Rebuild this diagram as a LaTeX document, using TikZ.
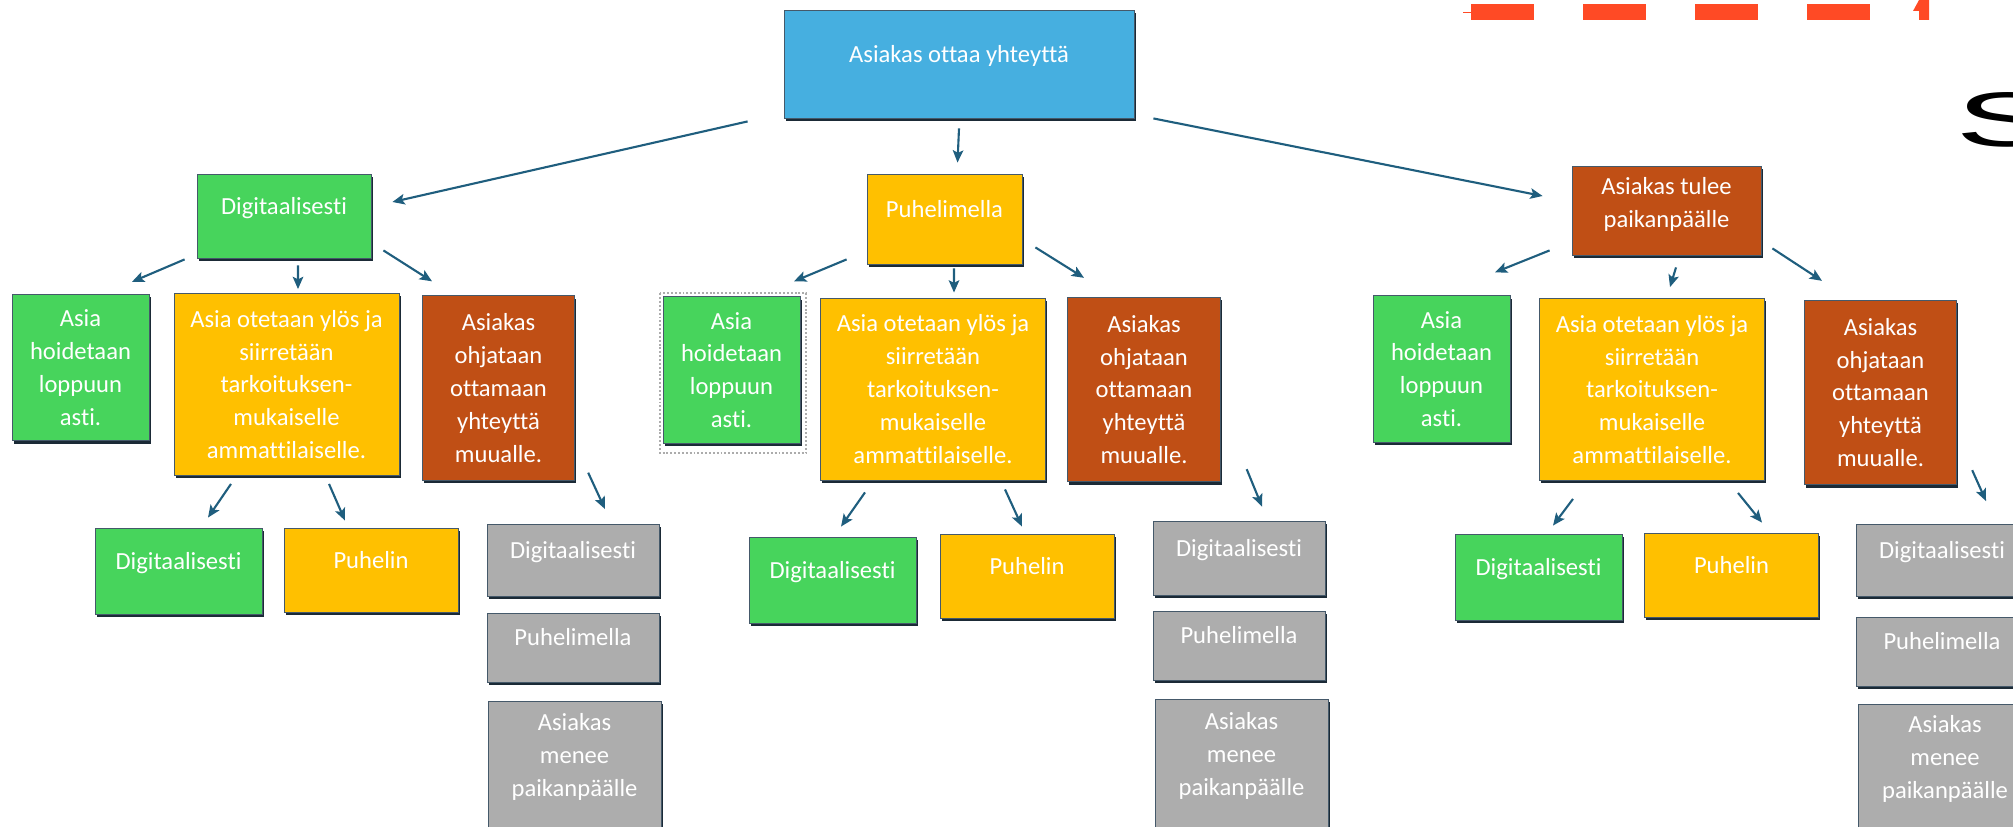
\documentclass[tikz,border=0pt]{standalone}
\usepackage{fontspec}
\setmainfont{Carlito}[Ligatures=NoCommon]
\newfontfamily\logofont{Liberation Sans}
\usetikzlibrary{arrows.meta, shadows}

\definecolor{topblue}{HTML}{46AFE0}
\definecolor{boxgreen}{HTML}{47D45C}
\definecolor{boxyellow}{HTML}{FFC000}
\definecolor{boxbrown}{HTML}{C04F15}
\definecolor{boxgray}{HTML}{ADADAD}
\definecolor{edgecol}{HTML}{45596A}
\definecolor{shadowcol}{HTML}{1B2A36}
\definecolor{arrowblue}{HTML}{1F5E7E}
\definecolor{dashred}{HTML}{FF4A25}

\begin{document}
\begin{tikzpicture}[
x=0.02cm, y=-0.02cm,
box/.style={draw=edgecol, line width=0.5pt, text=white, align=center, inner sep=2pt,
  font=\fontsize{14}{18.7}\selectfont,
  drop shadow={shadow xshift=0.9pt, shadow yshift=-1.6pt, opacity=1, fill=shadowcol}},
bluebox/.style={box, fill=topblue},
greenbox/.style={box, fill=boxgreen},
yellowbox/.style={box, fill=boxyellow},
brownbox/.style={box, fill=boxbrown},
graybox/.style={box, fill=boxgray},
toptext/.style={text height=10pt, text depth=12pt},
finsize/.style={minimum width=2.74cm, minimum height=2.93cm},
fwdsize/.style={minimum width=4.5cm, minimum height=3.64cm},
refsize/.style={minimum width=3.05cm, minimum height=3.69cm},
dsize/.style={toptext, minimum width=3.34cm, minimum height=1.72cm},
psize/.style={toptext, minimum width=3.48cm, minimum height=1.68cm},
gsize/.style={toptext, minimum width=3.44cm, minimum height=1.44cm},
vsize/.style={text depth=15pt, minimum width=3.46cm, minimum height=2.68cm},
selframe/.style={draw=gray!65, dash pattern=on 1.1pt off 1.1pt, line width=1.1pt},
arrow/.style={-{Stealth[length=7pt, width=6pt, inset=1.5pt]}, line width=1.2pt, draw=arrowblue}
]
\useasboundingbox (0,0) rectangle (2013,827);

% top
\node[bluebox, toptext, minimum width=7cm, minimum height=2.16cm] (start) at (959,64) {Asiakas ottaa yhteyttä};

% first level
\node[greenbox, toptext, minimum width=3.48cm, minimum height=1.68cm] (digi) at (284,216) {Digitaalisesti};
\node[yellowbox, toptext, minimum width=3.1cm, minimum height=1.8cm] (phone) at (944.5,219) {Puhelimella};
\node[brownbox, text depth=9pt, minimum width=3.78cm, minimum height=1.78cm] (visit) at (1666.5,210.5) {Asiakas tulee\\paikanpäälle};

% second level
\node[greenbox, finsize] (digiFin) at (80.5,367.5) {Asia\\hoidetaan\\loppuun\\asti.};
\node[yellowbox, fwdsize] (digiFwd) at (286.5,384.5) {Asia otetaan ylös ja\\siirretään\\tarkoituksen-\\mukaiselle\\ammattilaiselle.};
\node[brownbox, refsize] (digiRef) at (498.5,388) {Asiakas\\ohjataan\\ottamaan\\yhteyttä\\muualle.};

\node[greenbox, finsize] (phoneFin) at (731.5,370) {Asia\\hoidetaan\\loppuun\\asti.};
\node[yellowbox, fwdsize] (phoneFwd) at (933,389) {Asia otetaan ylös ja\\siirretään\\tarkoituksen-\\mukaiselle\\ammattilaiselle.};
\node[brownbox, refsize] (phoneRef) at (1144,389.5) {Asiakas\\ohjataan\\ottamaan\\yhteyttä\\muualle.};

\node[greenbox, finsize] (visitFin) at (1441.5,369) {Asia\\hoidetaan\\loppuun\\asti.};
\node[yellowbox, fwdsize] (visitFwd) at (1652,389.5) {Asia otetaan ylös ja\\siirretään\\tarkoituksen-\\mukaiselle\\ammattilaiselle.};
\node[brownbox, refsize] (visitRef) at (1880.5,392.5) {Asiakas\\ohjataan\\ottamaan\\yhteyttä\\muualle.};

\draw[selframe] ([shift={(-3,-3)}]phoneFin.north west) rectangle ([shift={(6,9)}]phoneFin.south east);

% third level
\node[greenbox, dsize] (digiFwdD) at (178.5,571) {Digitaalisesti};
\node[yellowbox, psize] (digiFwdP) at (371,570) {Puhelin};
\node[graybox, gsize] (digiRefD) at (573,560.5) {Digitaalisesti};
\node[graybox, gsize, minimum height=1.38cm] (digiRefP) at (573,647.5) {Puhelimella};
\node[graybox, vsize] (digiRefV) at (574.5,768) {Asiakas\\menee\\paikanpäälle};

\node[greenbox, dsize] (phoneFwdD) at (832.5,580) {Digitaalisesti};
\node[yellowbox, psize] (phoneFwdP) at (1027,576) {Puhelin};
\node[graybox, gsize, minimum height=1.48cm] (phoneRefD) at (1239,558) {Digitaalisesti};
\node[graybox, gsize, minimum height=1.38cm] (phoneRefP) at (1239,645.5) {Puhelimella};
\node[graybox, vsize, minimum height=2.72cm] (phoneRefV) at (1241.5,767) {Asiakas\\menee\\paikanpäälle};

\node[greenbox, dsize] (visitFwdD) at (1538.5,577) {Digitaalisesti};
\node[yellowbox, psize] (visitFwdP) at (1731.5,575) {Puhelin};
\node[graybox, gsize] (visitRefD) at (1942,560.5) {Digitaalisesti};
\node[graybox, gsize, minimum height=1.38cm] (visitRefP) at (1942,651.5) {Puhelimella};
\node[graybox, vsize, minimum height=2.64cm] (visitRefV) at (1945,770) {Asiakas\\menee\\paikanpäälle};

% arrows
\draw[arrow] ([shift={(-36,3)}]start.south west) -- ([shift={(21,-14)}]digi.east);
\draw[arrow] ([shift={(0,10)}]start.south) -- ([shift={(13,-11)}]phone.north);
\draw[arrow] ([shift={(19,0)}]start.south east) -- ([shift={(-29,-14.5)}]visit.west);

\draw[arrow] ([shift={(-12,1)}]digi.south west) -- ([shift={(51.5,-12)}]digiFin.north);
\draw[arrow] ([shift={(14,7)}]digi.south) -- ([shift={(11.5,-4)}]digiFwd.north);
\draw[arrow] ([shift={(12,-8)}]digi.south east) -- ([shift={(-66.5,-14)}]digiRef.north);

\draw[arrow] ([shift={(-20,-5)}]phone.south west) -- ([shift={(62.5,-15)}]phoneFin.north);
\draw[arrow] ([shift={(9.5,4)}]phone.south) -- ([shift={(21,-5)}]phoneFwd.north);
\draw[arrow] ([shift={(13,-17)}]phone.south east) -- ([shift={(-60,-19)}]phoneRef.north);

\draw[arrow] ([shift={(-22,-5)}]visit.south west) -- ([shift={(53.5,-23)}]visitFin.north);
\draw[arrow] ([shift={(9.5,12)}]visit.south) -- ([shift={(18,-11)}]visitFwd.north);
\draw[arrow] ([shift={(11,-7)}]visit.south east) -- ([shift={(-58.5,-19)}]visitRef.north);

\draw[arrow] ([shift={(-55.5,8)}]digiFwd.south) -- ([shift={(29.5,-10)}]digiFwdD.north);
\draw[arrow] ([shift={(42.5,8)}]digiFwd.south) -- ([shift={(-26,-7)}]digiFwdP.north);
\draw[arrow] ([shift={(13,-8)}]digiRef.south east) -- ([shift={(32,-15)}]digiRefD.north);

\draw[arrow] ([shift={(-68,12)}]phoneFwd.south) -- ([shift={(8.5,-10)}]phoneFwdD.north);
\draw[arrow] ([shift={(72,9)}]phoneFwd.south) -- ([shift={(-5,-7)}]phoneFwdP.north);
\draw[arrow] ([shift={(26,-13)}]phoneRef.south east) -- ([shift={(23,-14)}]phoneRefD.north);

\draw[arrow] ([shift={(-79,18)}]visitFwd.south) -- ([shift={(14.5,-8)}]visitFwdD.north);
\draw[arrow] ([shift={(86,12)}]visitFwd.south) -- ([shift={(30.5,-10)}]visitFwdP.north);
\draw[arrow] ([shift={(15,-15)}]visitRef.south east) -- ([shift={(44,-23)}]visitRefD.north);

% red dashes and logo at the top right
\draw[dashred, line width=0.4pt] (1463,12) -- (1471,12);
\foreach \x in {1471,1583,1695,1807}
  \fill[dashred] (\x,4) rectangle ++(63,16);
\fill[dashred] (1913,11) -- (1919,0) -- (1929,0) -- (1929,20) -- (1919,20) -- (1919,11) -- cycle;
\node[anchor=west, inner sep=0, font=\logofont\fontsize{44}{44}\selectfont] (logo) at (1955,120) {\scalebox{2}[1]{S}};

\end{tikzpicture}
\end{document}
